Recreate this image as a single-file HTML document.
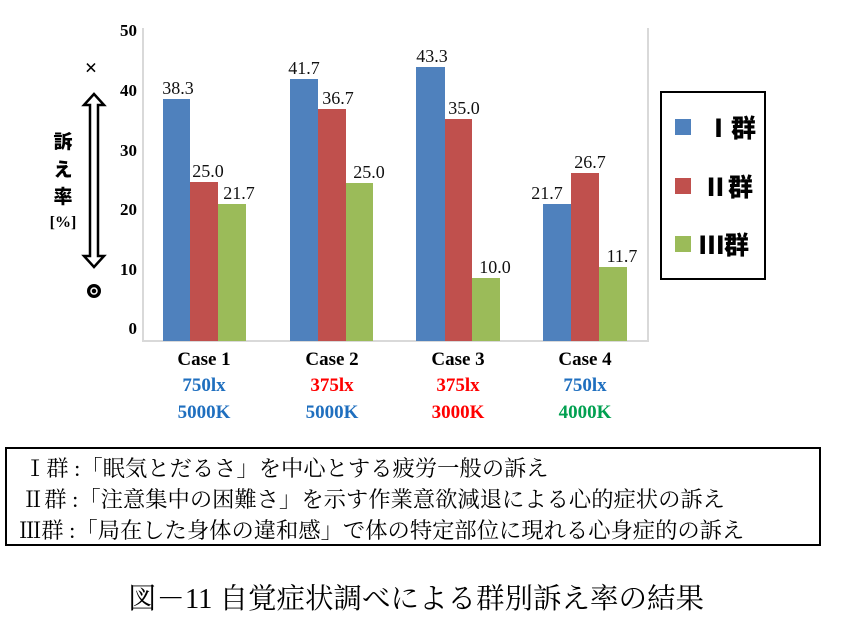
<!DOCTYPE html>
<html><head><meta charset="utf-8"><style>
body{margin:0;background:#fff;}
svg{display:block;}
.v{font-family:"Liberation Serif",serif;font-size:18px;fill:#111;}
.t{font-family:"Liberation Serif",serif;font-size:17px;font-weight:bold;fill:#000;}
.c{font-family:"Liberation Serif",serif;font-size:19px;font-weight:bold;}
.j{font-family:"Liberation Serif","Noto Serif CJK SC",serif;fill:#000;}
.jb{font-family:"Liberation Serif","Noto Sans CJK JP",sans-serif;font-weight:900;fill:#000;}
</style></head><body>
<svg width="861" height="617" viewBox="0 0 861 617" xmlns="http://www.w3.org/2000/svg">
<rect width="861" height="617" fill="#fff"/>
<line x1="143" y1="28" x2="143" y2="342" stroke="#d9d9d9" stroke-width="2"/>
<line x1="143" y1="341" x2="648" y2="341" stroke="#d9d9d9" stroke-width="2"/>
<line x1="648" y1="28" x2="648" y2="342" stroke="#d9d9d9" stroke-width="2"/>
<g class="t" text-anchor="end">
<text x="137" y="36">50</text><text x="137" y="96">40</text><text x="137" y="156">30</text>
<text x="137" y="215">20</text><text x="137" y="275">10</text><text x="137" y="334">0</text>
</g>
<g>
<rect x="163" y="99" width="27" height="242" fill="#4f81bd"/>
<rect x="190" y="182" width="28" height="159" fill="#c0504d"/>
<rect x="218" y="204" width="28" height="137" fill="#9bbb59"/>
<rect x="290" y="79" width="28" height="262" fill="#4f81bd"/>
<rect x="318" y="109" width="28" height="232" fill="#c0504d"/>
<rect x="346" y="183" width="27" height="158" fill="#9bbb59"/>
<rect x="416" y="67" width="29" height="274" fill="#4f81bd"/>
<rect x="445" y="119" width="27" height="222" fill="#c0504d"/>
<rect x="472" y="278" width="28" height="63" fill="#9bbb59"/>
<rect x="543" y="204" width="28" height="137" fill="#4f81bd"/>
<rect x="571" y="173" width="28" height="168" fill="#c0504d"/>
<rect x="599" y="267" width="28" height="74" fill="#9bbb59"/>
</g>
<g class="v" text-anchor="middle">
<text x="178" y="94">38.3</text><text x="208" y="177">25.0</text><text x="239" y="199">21.7</text>
<text x="304" y="74">41.7</text><text x="338" y="104">36.7</text><text x="369" y="178">25.0</text>
<text x="432" y="62">43.3</text><text x="464" y="114">35.0</text><text x="495" y="273">10.0</text>
<text x="547" y="199">21.7</text><text x="590" y="168">26.7</text><text x="622" y="262">11.7</text>
</g>
<g class="c" text-anchor="middle">
<text x="204" y="365" fill="#000">Case 1</text><text x="204" y="391" fill="#1f6fbf">750lx</text><text x="204" y="418" fill="#1f6fbf">5000K</text>
<text x="332" y="365" fill="#000">Case 2</text><text x="332" y="391" fill="#ff0000">375lx</text><text x="332" y="418" fill="#1f6fbf">5000K</text>
<text x="458" y="365" fill="#000">Case 3</text><text x="458" y="391" fill="#ff0000">375lx</text><text x="458" y="418" fill="#ff0000">3000K</text>
<text x="585" y="365" fill="#000">Case 4</text><text x="585" y="391" fill="#1f6fbf">750lx</text><text x="585" y="418" fill="#00a050">4000K</text>
</g>
<text x="91" y="75" class="jb" font-size="22" text-anchor="middle">×</text>
<path d="M94 94 L84 105 L90 105 L90 256 L84 256 L94 267 L104 256 L98 256 L98 105 L104 105 Z" fill="none" stroke="#000" stroke-width="2.5"/>
<g class="jb" font-size="19" text-anchor="middle">
<text x="63" y="148">訴</text><text x="63" y="176">え</text><text x="63" y="203">率</text>
<text x="63" y="227" font-size="16">[%]</text>
</g>
<circle cx="94" cy="291" r="7" fill="#000"/><circle cx="94" cy="291" r="3" fill="none" stroke="#fff" stroke-width="1.5"/>
<rect x="661" y="92" width="104" height="187" fill="none" stroke="#000" stroke-width="2"/>
<rect x="675" y="119" width="16" height="16" fill="#4f81bd"/>
<rect x="675" y="178" width="16" height="16" fill="#c0504d"/>
<rect x="675" y="236" width="16" height="16" fill="#9bbb59"/>
<g class="jb" font-size="25">
<text x="706" y="137">Ⅰ群</text><text x="703" y="196">Ⅱ群</text><text x="699" y="254">Ⅲ群</text>
</g>
<rect x="6" y="448" width="814" height="97" fill="none" stroke="#000" stroke-width="2"/>
<g class="j" font-size="22.3">
<text x="24" y="476">Ⅰ群 :「眠気とだるさ」を中心とする疲労一般の訴え</text>
<text x="22" y="507">Ⅱ群 :「注意集中の困難さ」を示す作業意欲減退による心的症状の訴え</text>
<text x="19" y="538">Ⅲ群 :「局在した身体の違和感」で体の特定部位に現れる心身症的の訴え</text>
</g>
<text x="416" y="608" class="j" font-size="28.5" text-anchor="middle">図－11  自覚症状調べによる群別訴え率の結果</text>
</svg>
</body></html>
